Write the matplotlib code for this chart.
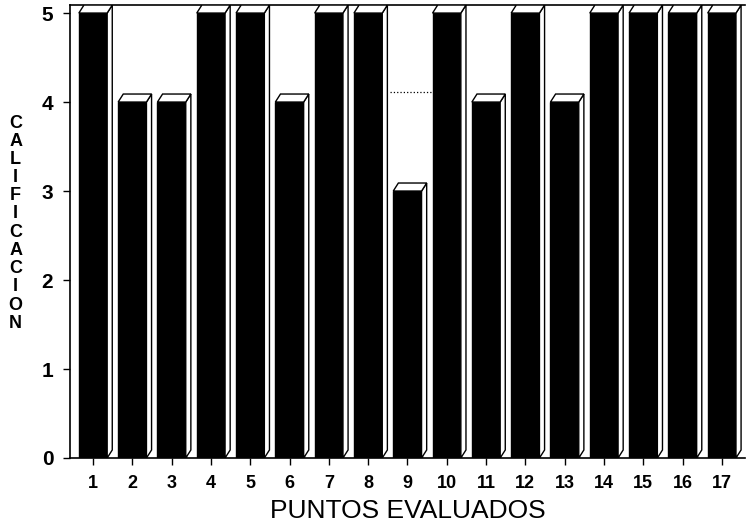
import matplotlib.pyplot as plt
from matplotlib.patches import Polygon
import numpy as np

plt.rcParams['font.family'] = ['Liberation Sans', 'DejaVu Sans']

# datos de la grafica
puntos = list(range(1, 18))
calificacion = [5, 4, 4, 5, 5, 4, 5, 5, 3, 5, 4, 5, 4, 5, 5, 5, 5]
letras_y = list("CALIFICACION")

fig = plt.figure(figsize=(7.48, 5.31), dpi=100)
ax = fig.add_axes([0.0936, 0.1375, 0.9024, 0.853])

ancho = 0.72
dx, dy = 0.13, 0.09  # profundidad del efecto 3D

# linea punteada del fondo (nivel 4) detras de la barra 9
ax.hlines(4 + 0.11, 8.55, 9.7, colors='black', linestyles=':', linewidth=0.9, zorder=0)

ax.bar(puntos, calificacion, width=ancho, color='black', edgecolor='black',
       linewidth=1.0, zorder=2)

for x, v in zip(puntos, calificacion):
    xl, xr = x - ancho / 2, x + ancho / 2
    # cara lateral
    lado = Polygon([(xr, 0), (xr + dx, dy), (xr + dx, v + dy), (xr, v)],
                   closed=True, facecolor='white', edgecolor='black',
                   linewidth=1.0, zorder=3)
    ax.add_patch(lado)
    # cara superior
    tapa = Polygon([(xl, v), (xl + dx, v + dy), (xr + dx, v + dy), (xr, v)],
                   closed=True, facecolor='white', edgecolor='black',
                   linewidth=1.0, zorder=3)
    ax.add_patch(tapa)

ax.set_xlim(0.415, 17.59)
ax.set_ylim(0, 5 + dy)
ax.set_xticks(puntos)
ax.set_xticklabels([str(p) for p in puntos], fontsize=13, fontweight='bold')
ax.set_yticks(range(0, 6))
ax.set_yticklabels([str(i) for i in range(0, 6)], fontsize=15, fontweight='bold')
ax.tick_params(axis='both', direction='out', length=5, width=1.0, color='black', pad=7)

ax.spines['right'].set_visible(False)
for s in ['left', 'bottom', 'top']:
    ax.spines[s].set_linewidth(1.2)

ax.set_xlabel('PUNTOS EVALUADOS', fontsize=19, labelpad=5)

# etiqueta vertical con letras apiladas
for i, letra in enumerate(letras_y):
    fig.text(0.021, 1 - (123 + i * 18.2) / 531, letra, fontsize=13, fontweight='bold',
             ha='center', va='center')

fig.savefig('out.png', dpi=100)
